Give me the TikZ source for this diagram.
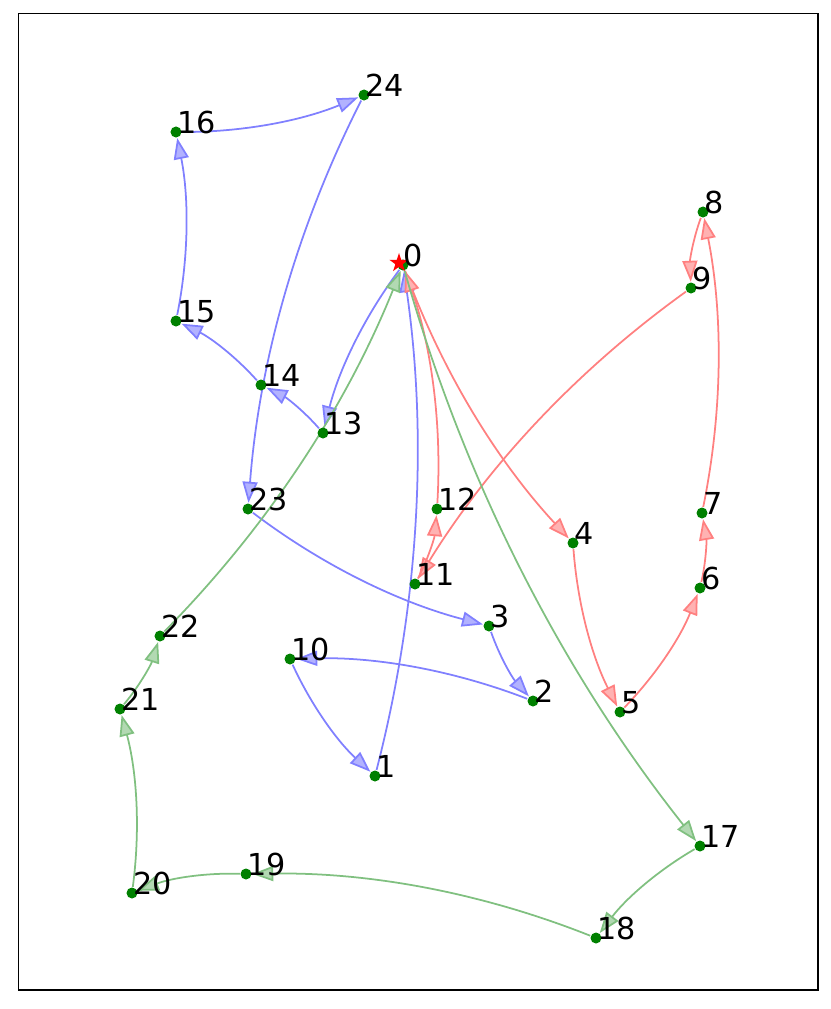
\documentclass[tikz,border=0pt]{standalone}
\usepackage{fontspec}
\setmainfont{DejaVu Sans}
\usetikzlibrary{arrows.meta,shapes.geometric}
\definecolor{bline}{RGB}{128,128,255}
\definecolor{bfill}{RGB}{178,178,255}
\definecolor{rline}{RGB}{255,128,128}
\definecolor{rfill}{RGB}{255,178,178}
\definecolor{gline}{RGB}{128,192,128}
\definecolor{gfill}{RGB}{178,217,178}
\definecolor{dotg}{RGB}{0,128,0}
\pgfdeclarelayer{bg}
\pgfsetlayers{bg,main}
\tikzset{
  dot/.style={circle,fill=dotg,inner sep=0pt,minimum size=0.11cm},
  lab/.style={anchor=base west,inner sep=0pt,font=\fontsize{8.6pt}{10pt}\selectfont},
  route/.style={line width=0.5pt,draw=#1line,bend right=11.3,looseness=0.87,
    -{Triangle[length=0.21cm,width=0.15cm,fill=#1fill]}},
  depot/.style={star,star points=5,star point ratio=2.6,minimum size=0.2cm,inner sep=0pt,fill=red}
}
\begin{document}
\begin{tikzpicture}[x=0.01cm,y=-0.01cm]
\useasboundingbox (0,0) rectangle (830,1009);
\draw[line width=0.35pt] (18.5,13.5) rectangle (818,990);
% nodes
\node[dot] (n0) at (403,265) {};
\node[depot] (star0) at (399,263) {};
\node[dot] (n1) at (375,776) {};
\node[dot] (n2) at (533,701) {};
\node[dot] (n3) at (489,626) {};
\node[dot] (n4) at (573,543) {};
\node[dot] (n5) at (620,712) {};
\node[dot] (n6) at (700,588) {};
\node[dot] (n7) at (702,513) {};
\node[dot] (n8) at (703,212) {};
\node[dot] (n9) at (691,288) {};
\node[dot] (n10) at (290,659) {};
\node[dot] (n11) at (415,584) {};
\node[dot] (n12) at (437,509) {};
\node[dot] (n13) at (323,433) {};
\node[dot] (n14) at (261,385) {};
\node[dot] (n15) at (176,321) {};
\node[dot] (n16) at (176,132) {};
\node[dot] (n17) at (700,846) {};
\node[dot] (n18) at (596,938) {};
\node[dot] (n19) at (246,874) {};
\node[dot] (n20) at (132,893) {};
\node[dot] (n21) at (120,709) {};
\node[dot] (n22) at (160,636) {};
\node[dot] (n23) at (248,509) {};
\node[dot] (n24) at (364,95) {};
% labels
\node[lab] (l0) at ([shift={(0,1)}]n0.center) {0};
\foreach \i in {1,...,24}{
  \node[lab] (l\i) at ([shift={(1,1)}]n\i.center) {\i};
}
% routes
\begin{pgfonlayer}{bg}
\draw[route=b] (n0) to (n13);
\draw[route=b] (n13) to (n14);
\draw[route=b] (n14) to (n15);
\draw[route=b] (n15) to (n16);
\draw[route=b] (n16) to (n24);
\draw[route=b] (n24) to (n23);
\draw[route=b] (n23) to (n3);
\draw[route=b] (n3) to (n2);
\draw[route=b] (n2) to (n10);
\draw[route=b] (n10) to (n1);
\draw[route=b] (n1) to (n0);
\draw[route=r] (n0) to (n4);
\draw[route=r] (n4) to (n5);
\draw[route=r] (n5) to (n6);
\draw[route=r] (n6) to (n7);
\draw[route=r] (n7) to (n8);
\draw[route=r] (n8) to (n9);
\draw[route=r] (n9) to (n11);
\draw[route=r] (n11) to (n12);
\draw[route=r] (n12) to (n0);
\draw[route=g] (n0) to (n17);
\draw[route=g] (n17) to (n18);
\draw[route=g] (n18) to (n19);
\draw[route=g] (n19) to (n20);
\draw[route=g] (n20) to (n21);
\draw[route=g] (n21) to (n22);
\draw[route=g] (n22) to (n0);
\end{pgfonlayer}
\end{tikzpicture}
\end{document}
